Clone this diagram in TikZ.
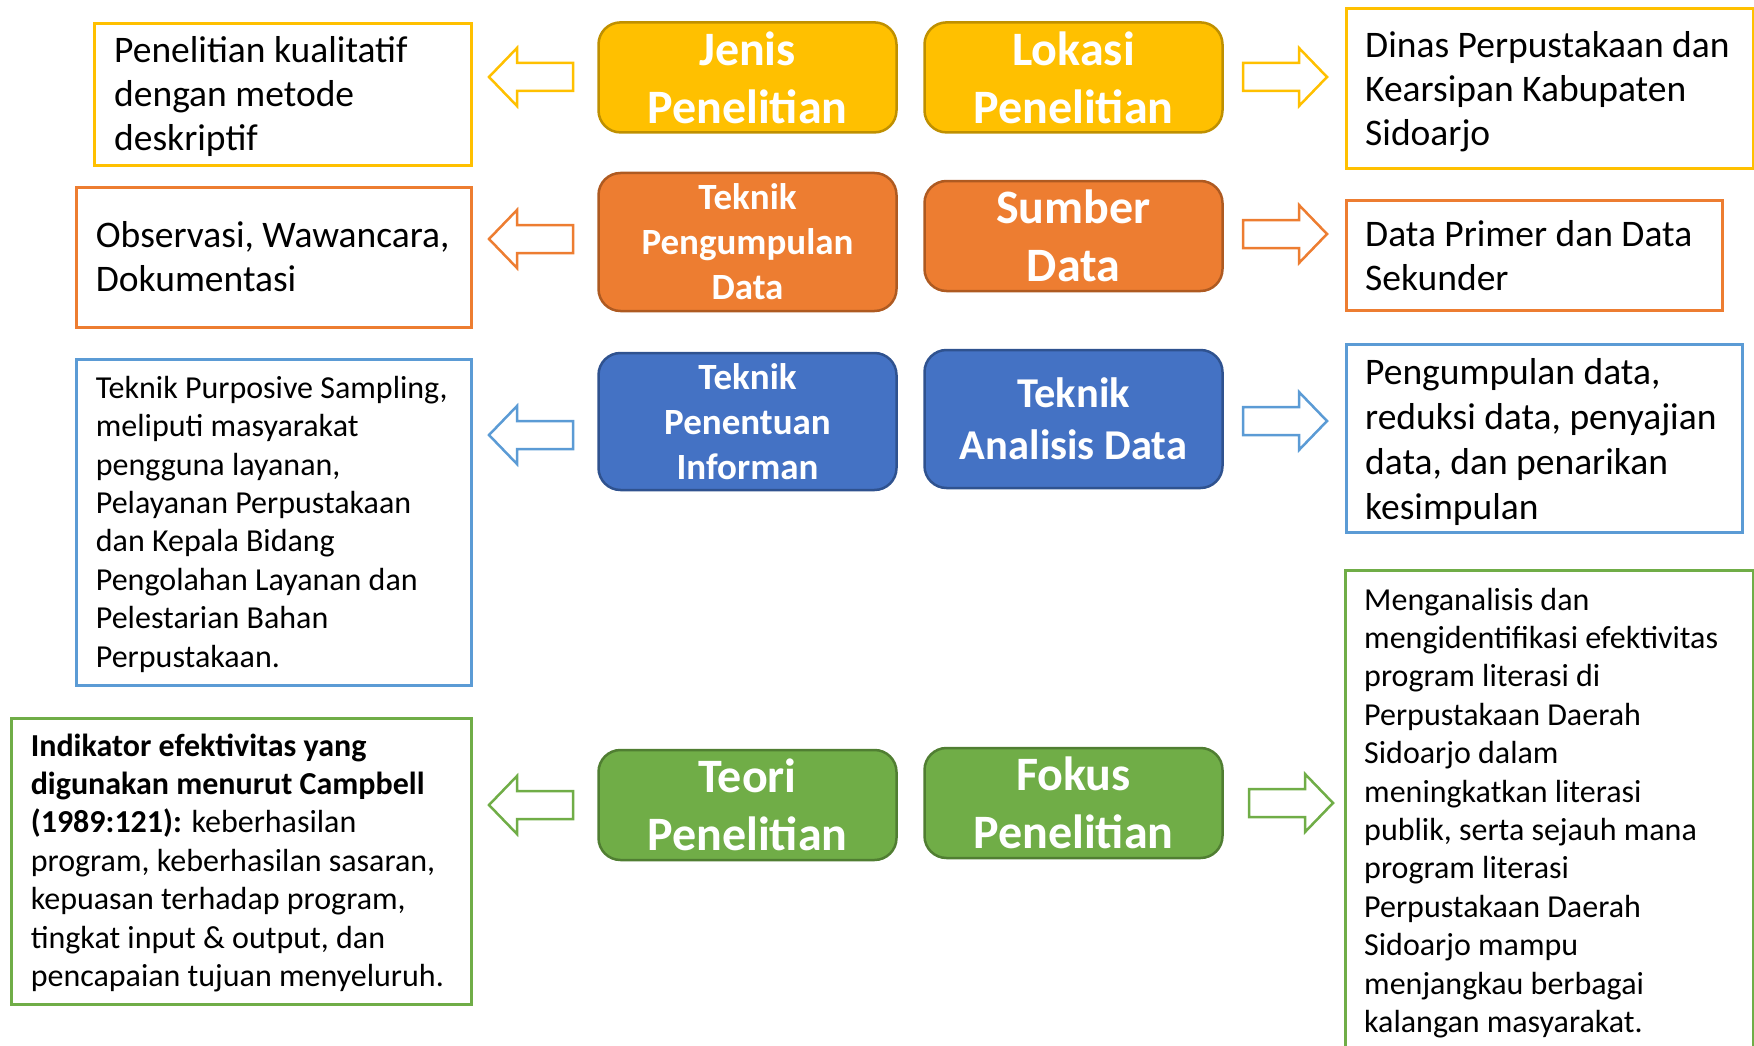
\documentclass[tikz,border=0pt]{standalone}
\usepackage{fontspec}
\setmainfont{Carlito}
\definecolor{yel}{HTML}{FFC000}
\definecolor{yelD}{HTML}{BF9000}
\definecolor{ora}{HTML}{ED7D31}
\definecolor{oraD}{HTML}{AE5A21}
\definecolor{blu}{HTML}{4472C4}
\definecolor{bluD}{HTML}{2F528F}
\definecolor{bluL}{HTML}{5B9BD5}
\definecolor{gre}{HTML}{70AD47}
\definecolor{greD}{HTML}{507E32}
\newcommand\dgBig{\fontsize{37.5}{44}\selectfont}
\newcommand\dgBigB{\fontsize{37.5}{45}\selectfont}
\newcommand\dgSmall{\fontsize{32}{38.4}\selectfont}
\newcommand\dgHead{\fontsize{48}{58}\selectfont\bfseries}
\newcommand\dgMid{\fontsize{37}{45}\selectfont\bfseries}
\newcommand\dgAna{\fontsize{42.5}{52}\selectfont\bfseries}
\begin{document}
\begin{tikzpicture}[x=1pt,y=-1pt,
  mbox/.style={rounded corners=22, line width=2.5, text=white, align=center,
    minimum width=298, inner sep=0},
  tbox/.style={draw, line width=3, inner sep=0, anchor=north west},
  txt/.style={anchor=base west, align=left, inner sep=0, text=black},
  blockarr/.pic={\draw[line width=2.5, fill=white, pic actions]
    (0,-14) -- (56,-14) -- (56,-29) -- (84,0) -- (56,29) -- (56,14) -- (0,14) -- cycle;}
]
\useasboundingbox (0,0) rectangle (1754,1046);
\begin{scope}
\clip (0,0) rectangle (1754,1046);

% middle boxes
\node[mbox, fill=yel, draw=yelD, minimum height=110, font=\dgHead] (jenis) at (747.5,77.4) {Jenis\\Penelitian};
\node[mbox, fill=yel, draw=yelD, minimum height=110, font=\dgHead] (lokasi) at (1073.5,77.4) {Lokasi\\Penelitian};
\node[mbox, fill=ora, draw=oraD, minimum height=138, font=\dgMid] (pengumpulan) at (747.5,242) {Teknik\\Pengumpulan\\Data};
\node[mbox, fill=ora, draw=oraD, minimum height=110, font=\dgHead] (sumber) at (1073.5,236) {Sumber\\Data};
\node[mbox, fill=blu, draw=bluD, minimum height=137, font=\dgMid] (penentuan) at (747.5,421.5) {Teknik\\Penentuan\\Informan};
\node[mbox, fill=blu, draw=bluD, minimum height=138, font=\dgAna] (analisis) at (1073.5,419) {Teknik\\Analisis Data};
\node[mbox, fill=gre, draw=greD, minimum height=110, font=\dgHead] (teori) at (747.5,805) {Teori\\Penelitian};
\node[mbox, fill=gre, draw=greD, minimum height=110, font=\dgHead] (fokus) at (1073.5,803) {Fokus\\Penelitian};

% left text boxes (text anchored at the baseline of its last line)
\node[tbox, draw=yel, minimum width=377, minimum height=142] (jenisT) at (93,21.7) {};
\node[txt, font=\dgBig] (jenisX) at (114,150.5) {Penelitian kualitatif\\dengan metode\\deskriptif};
\node[tbox, draw=ora, minimum width=395, minimum height=140] (pengumpulanT) at (75,186) {};
\node[txt, font=\dgBig] (pengumpulanX) at (95.7,291) {Observasi, Wawancara,\\Dokumentasi};
\node[tbox, draw=bluL, minimum width=395, minimum height=326] (penentuanT) at (75,358) {};
\node[txt, font=\dgSmall] (penentuanX) at (95.7,667) {Teknik Purposive Sampling,\\meliputi masyarakat\\pengguna layanan,\\Pelayanan Perpustakaan\\dan Kepala Bidang\\Pengolahan Layanan dan\\Pelestarian Bahan\\Perpustakaan.};
\node[tbox, draw=gre, minimum width=460, minimum height=286] (teoriT) at (10,717) {};
\node[txt, font=\dgSmall] (teoriX) at (30.6,986.5) {\textbf{Indikator efektivitas yang}\\\textbf{digunakan menurut Campbell}\\\textbf{(1989:121):} keberhasilan\\program, keberhasilan sasaran,\\kepuasan terhadap program,\\tingkat input \& output, dan\\pencapaian tujuan menyeluruh.};

% right text boxes
\node[tbox, draw=yel, minimum width=407, minimum height=160] (lokasiT) at (1345,7) {};
\node[txt, font=\dgBig] (lokasiX) at (1365,145.5) {Dinas Perpustakaan dan\\Kearsipan Kabupaten\\Sidoarjo};
\node[tbox, draw=ora, minimum width=376, minimum height=110] (sumberT) at (1345,199) {};
\node[txt, font=\dgBig] (sumberX) at (1365,290.5) {Data Primer dan Data\\Sekunder};
\node[tbox, draw=bluL, minimum width=396, minimum height=188] (analisisT) at (1345,343) {};
\node[txt, font=\dgBigB] (analisisX) at (1365,519.5) {Pengumpulan data,\\reduksi data, penyajian\\data, dan penarikan\\kesimpulan};
\node[tbox, draw=gre, minimum width=408, minimum height=500] (fokusT) at (1344,569) {};
\node[txt, font=\dgSmall] (fokusX) at (1364,1032.4) {Menganalisis dan\\mengidentifikasi efektivitas\\program literasi di\\Perpustakaan Daerah\\Sidoarjo dalam\\meningkatkan literasi\\publik, serta sejauh mana\\program literasi\\Perpustakaan Daerah\\Sidoarjo mampu\\menjangkau berbagai\\kalangan masyarakat.};

% block arrows
\path (573,77) pic[draw=yel, xscale=-1] {blockarr};
\path (573,239) pic[draw=ora, xscale=-1] {blockarr};
\path (573,435) pic[draw=bluL, xscale=-1] {blockarr};
\path (573,805) pic[draw=gre, xscale=-1] {blockarr};
\path (1243,77) pic[draw=yel] {blockarr};
\path (1243,234) pic[draw=ora] {blockarr};
\path (1243,421) pic[draw=bluL] {blockarr};
\path (1249,803) pic[draw=gre] {blockarr};
\end{scope}
\end{tikzpicture}
\end{document}
